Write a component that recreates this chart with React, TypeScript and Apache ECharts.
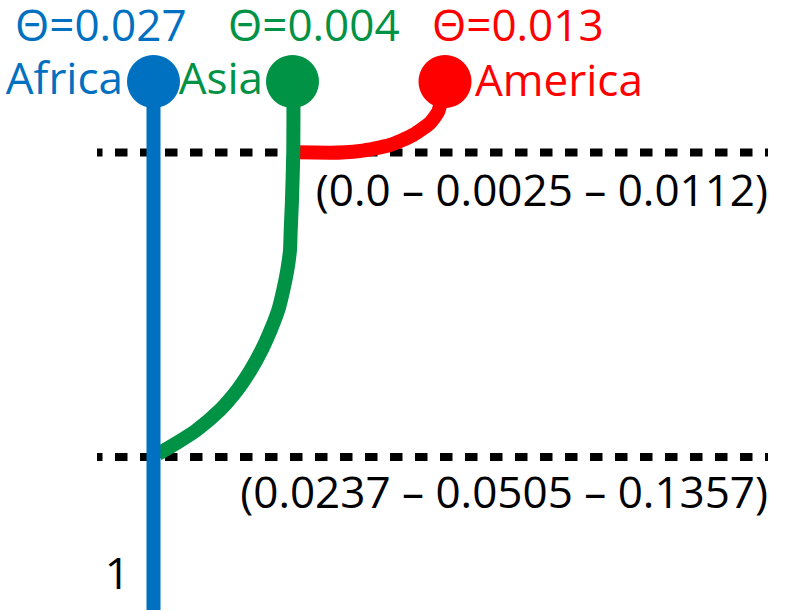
import React, { useEffect, useRef } from "react";
import * as echarts from "echarts";

// ---- data ----
const populations = ["Africa", "Asia", "America"];
const thetas = [0.027, 0.004, 0.013];
const colors = ["#0070C0", "#009245", "#FF0000"];
// leaf (circle) positions in diagram units (x, depth)
const leafX = [153.5, 292.5, 445];
const leafDepth = [81.5, 81.5, 81.5];
// lineage paths (x, depth)
const africaPath: [number, number][] = [[153.5, 82], [153.5, 610]];
const asiaPath: [number, number][] = [
  [293.5, 82], [293.3, 150], [292, 200], [290.7, 230], [290, 250], [287.3, 270], [283.3, 290],
  [278.3, 310], [270.7, 330], [261.7, 350], [250.7, 370], [237.3, 390], [220, 410],
  [196.7, 430], [176.7, 443], [158, 454],
];
const americaPath: [number, number][] = [
  [296, 152.3], [330, 152.7], [360, 151], [390, 145], [413, 135], [430, 123],
  [438, 112], [441, 100], [442, 85],
];
// coalescence events (depth) and their interval labels
const eventDepth = [152.5, 457];
const eventLabels = ["(0.0 – 0.0025 – 0.0112)", "(0.0237 – 0.0505 – 0.1357)"];
const dashExtent = [97, 768];
const rootLabel = "1";

const FONT = '"Open Sans", "Noto Sans", sans-serif';

export default function App() {
  const ref = useRef<HTMLDivElement>(null);
  useEffect(() => {
    document.body.style.margin = "0";
    const chart = echarts.init(ref.current!, null, { renderer: "svg" });
    const fs = 44;
    const txt = (x: number, baseline: number, text: string, fill: string, align: string) => ({
      type: "text",
      x,
      y: baseline - fs * 0.36,
      style: { text, fill, font: `${fs}px ${FONT}`, align, verticalAlign: "middle" },
      z: 100,
    });
    const thetaX = [15, 228, 432];
    const nameAnchor = [
      { x: 123, align: "right", b: 93 },
      { x: 263, align: "right", b: 93 },
      { x: 475, align: "left", b: 95 },
    ];
    const graphic: any[] = [];
    thetas.forEach((t, i) => {
      graphic.push(txt(thetaX[i], 40, `Θ=${t.toFixed(3)}`, colors[i], "left"));
      graphic.push(txt(nameAnchor[i].x, nameAnchor[i].b, populations[i], colors[i], nameAnchor[i].align));
    });
    const labelBaselines = [205, 507];
    eventLabels.forEach((l, i) => graphic.push(txt(768, labelBaselines[i], l, "#000", "right")));
    graphic.push(txt(130, 588, rootLabel, "#000", "right"));

    const dashSeries = eventDepth.map((d) => ({
      type: "line",
      data: [[dashExtent[0], d], [dashExtent[1], d]],
      symbol: "none",
      lineStyle: { color: "#000", width: 8, type: [12.5, 12.5], dashOffset: 7 },
      z: 1,
      silent: true,
    }));
    const paths = [africaPath, asiaPath, americaPath];
    const order = [2, 1, 0];
    const lineageSeries = order.map((i, k) => ({
      type: "line",
      data: paths[i],
      symbol: "none",
      smooth: i === 0 ? false : 0.2,
      lineStyle: { color: colors[i], width: 14, cap: "butt", join: "round", opacity: 1 },
      z: 2 + k,
      silent: true,
    }));
    const circles = {
      type: "scatter",
      data: leafX.map((x, i) => ({ value: [x, leafDepth[i]], itemStyle: { color: colors[i], opacity: 1 } })),
      symbolSize: 53,
      itemStyle: { opacity: 1 },
      z: 10,
      silent: true,
    };
    chart.setOption({
      animation: false,
      grid: { left: 0, right: 0, top: 0, bottom: 0 },
      xAxis: { type: "value", min: 0, max: 787, show: false },
      yAxis: { type: "value", min: 0, max: 612, inverse: true, show: false },
      series: [...dashSeries, ...lineageSeries, circles],
      graphic,
    });
    return () => chart.dispose();
  }, []);
  return <div ref={ref} style={{ position: "absolute", left: 0, top: 0, width: 787, height: 612 }} />;
}
